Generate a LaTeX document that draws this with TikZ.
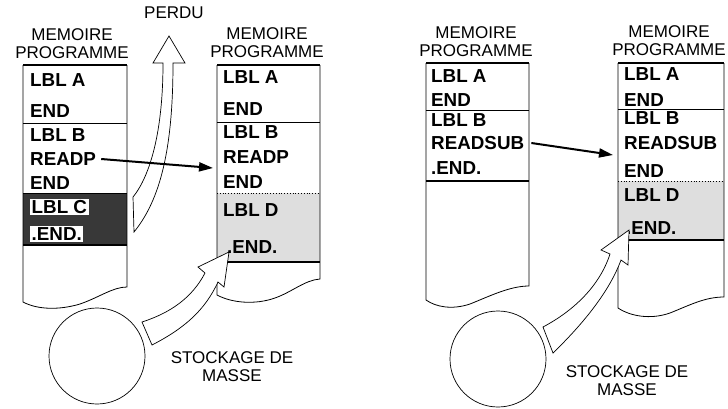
\documentclass[tikz,border=0pt]{standalone}
\usepackage{fontspec}
\setmainfont{Liberation Sans}
\usetikzlibrary{arrows.meta}
\begin{document}
\begin{tikzpicture}[x=1pt,y=-1pt,
  hdr/.style={font=\fontsize{17}{18}\selectfont, align=center, inner sep=0pt},
  lbl/.style={font=\fontsize{18.8}{20}\selectfont\bfseries, anchor=west, inner sep=0pt},
  wlbl/.style={lbl, fill=white, inner sep=1.5pt},
  col/.style={line width=0.8pt},
  heavy/.style={line width=2pt},
  stip/.style={fill=black!13},
  dark/.style={fill=black!78},
  ptr/.style={line width=2pt, -{Triangle[length=14pt,width=9pt]}},
  hollow/.style={draw, fill=white, line width=0.7pt, line join=miter},
  disk/.style={circle, draw, line width=0.7pt, minimum size=96pt, inner sep=0pt}]
\useasboundingbox (0,0) rectangle (728,408);

% ---------- panel 1 ----------
\fill[dark] (23,193) rectangle (127,245);
\draw[col] (23,65) -- (23,302) .. controls (38,310) and (60,310) .. (80,304) .. controls (100,297) and (113,287) .. (127,287) -- (127,65);
\draw[col] (23,123) -- (127,123);
\draw[col] (23,193) -- (127,193);
\draw[heavy] (23,65) -- (127,65);
\draw[heavy] (23,245) -- (127,245);
\node[hdr] (h1) at (72,44) {MEMOIRE\\PROGRAMME};
\node[lbl] (a1) at (30,80) {LBL A};
\node[lbl] (e1) at (30,111) {END};
\node[lbl] (b1) at (30,135) {LBL B};
\node[lbl] (readp) at (30,159) {READP};
\node[lbl] (e1b) at (30,183) {END};
\node[wlbl] (c1) at (30,207) {LBL C};
\node[wlbl] (end1) at (30,234) {.END.};

% lost program arrow
\draw[hollow] (133,197) .. controls (147,180) and (163,140) .. (163,63) -- (153,63) -- (169,36) -- (185,63) -- (173,63) .. controls (173,150) and (160,200) .. (134,232) -- cycle;
\node[hdr] (perdu) at (174,13) {PERDU};

% ---------- panel 2 ----------
\fill[stip] (217,193) rectangle (320,262);
\draw[col] (217,65) -- (217,295) .. controls (232,303) and (255,305) .. (275,298) .. controls (292,292) and (305,280) .. (320,279) -- (320,65);
\draw[col] (217,122) -- (320,122);
\draw[col, dotted] (217,193) -- (320,193);
\draw[heavy] (217,65) -- (320,65);
\draw[heavy] (217,262) -- (320,262);
\node[hdr] (h2) at (267,43) {MEMOIRE\\PROGRAMME};
\node[lbl] (a2) at (223,77) {LBL A};
\node[lbl] (e2) at (223,109) {END};
\node[lbl] (b2) at (223,132) {LBL B};
\node[lbl] (readp2) at (223,157) {READP};
\node[lbl] (e2b) at (223,182) {END};
\node[lbl] (d2) at (223,210) {LBL D};
\node[lbl] (end2) at (227,247) {.END.};
\coordinate (p2in) at (213,168);
\draw[ptr] ([xshift=5pt]readp.east) -- (p2in);

\node[disk] (disk1) at (97,356) {};
\draw[hollow] (142,322) .. controls (170,313) and (192,298) .. (205,273) -- (198,267) -- (229,252) -- (224,287) -- (218,282) .. controls (205,310) and (185,328) .. (152,345) -- cycle;
\node[hdr] (stk1) at (232,367) {STOCKAGE DE\\MASSE};

% ---------- panel 3 ----------
\draw[col] (426,63) -- (426,300) .. controls (436,307) and (452,310) .. (470,304) .. controls (490,296) and (510,286) .. (529,286) -- (529,63);
\draw[col] (426,110) -- (529,110);
\draw[heavy] (426,63) -- (529,63);
\draw[heavy] (426,181) -- (529,181);
\node[hdr] (h3) at (476,42) {MEMOIRE\\PROGRAMME};
\node[lbl] (a3) at (431,76) {LBL A};
\node[lbl] (e3) at (431,100) {END};
\node[lbl] (b3) at (431,120) {LBL B};
\node[lbl] (readsub) at (431,143) {READSUB};
\node[lbl] (end3) at (431,168) {.END.};

% ---------- panel 4 ----------
\fill[stip] (618,181) rectangle (724,240);
\draw[col] (618,63) -- (618,308) .. controls (630,316) and (650,320) .. (670,313) .. controls (690,305) and (705,297) .. (724,297) -- (724,63);
\draw[col] (618,109) -- (724,109);
\draw[col, dotted] (618,181) -- (724,181);
\draw[heavy] (618,63) -- (724,63);
\draw[heavy] (618,240) -- (724,240);
\node[hdr] (h4) at (669,41) {MEMOIRE\\PROGRAMME};
\node[lbl] (a4) at (624,74) {LBL A};
\node[lbl] (e4) at (624,100) {END};
\node[lbl] (b4) at (624,118) {LBL B};
\node[lbl] (readsub4) at (624,143) {READSUB};
\node[lbl] (e4b) at (624,171) {END};
\node[lbl] (d4) at (624,195) {LBL D};
\node[lbl] (end4) at (626,228) {.END.};
\coordinate (p4in) at (613,155);
\draw[ptr] ([xshift=7pt]readsub.east) -- (p4in);

\node[disk] (disk2) at (498,359) {};
\draw[hollow] (543,327) .. controls (575,310) and (600,285) .. (610,254) -- (601,250) -- (629,230) -- (628,265) -- (621,260) .. controls (610,290) and (585,322) .. (553,353) -- cycle;
\node[hdr] (stk2) at (627,381) {STOCKAGE DE\\MASSE};
\end{tikzpicture}
\end{document}
